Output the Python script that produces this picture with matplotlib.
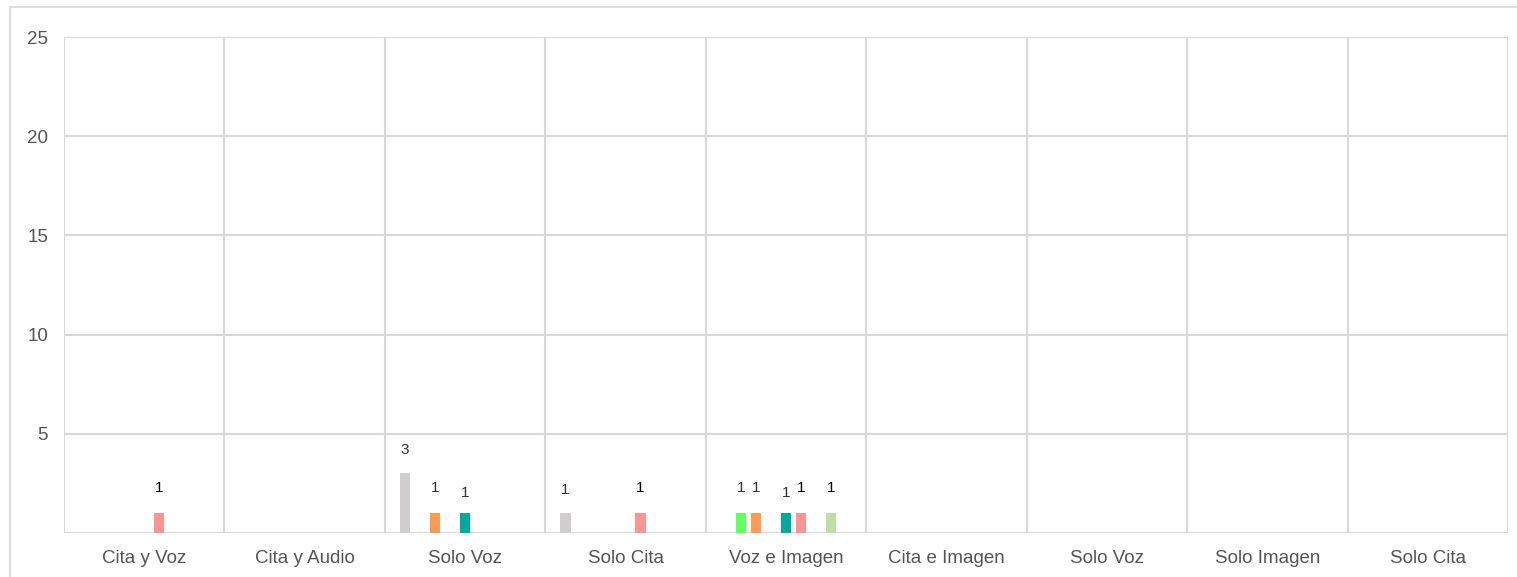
import matplotlib
matplotlib.use("Agg")
import matplotlib.pyplot as plt
import numpy as np

plt.rcParams['font.family'] = ['Liberation Sans', 'DejaVu Sans']

categories = ["Cita y Voz", "Cita y Audio", "Solo Voz", "Solo Cita", "Voz e Imagen",
              "Cita e Imagen", "Solo Voz", "Solo Imagen", "Solo Cita"]
y_ticks = [5, 10, 15, 20, 25]

# series values (slot order within each group)
s_gray       = [0, 0, 3, 1, 0, 0, 0, 0, 0]
s_green      = [0, 0, 0, 0, 1, 0, 0, 0, 0]
s_orange     = [0, 0, 1, 0, 1, 0, 0, 0, 0]
s_empty1     = [0, 0, 0, 0, 0, 0, 0, 0, 0]
s_teal       = [0, 0, 1, 0, 1, 0, 0, 0, 0]
s_pink       = [1, 0, 0, 1, 1, 0, 0, 0, 0]
s_empty2     = [0, 0, 0, 0, 0, 0, 0, 0, 0]
s_lightgreen = [0, 0, 0, 0, 1, 0, 0, 0, 0]
s_empty3     = [0, 0, 0, 0, 0, 0, 0, 0, 0]

series = [s_gray, s_green, s_orange, s_empty1, s_teal, s_pink, s_empty2, s_lightgreen, s_empty3]
colors = ["#D0CECF", "#66FF66", "#FF9A55", "#999999", "#00A8A0", "#FF9494", "#999999", "#C0DCA8", "#999999"]
label_colors = ["#333333", "#333333", "#333333", "#333333", "#333333", "#000000", "#333333", "#000000", "#333333"]
label_offsets = [17, 18, 18, 18, 14.4, 18, 18, 18, 18]

W, H = 1517, 577
fig = plt.figure(figsize=(W / 100, H / 100), dpi=100)
ax = fig.add_axes([64 / W, (H - 533) / H, (1508 - 64) / W, (533 - 37) / H])

n = len(categories)
ns = len(series)
slot = 15 / 160.5
bw = 10.5 / 160.5
x = np.arange(n)
for i, (vals, c) in enumerate(zip(series, colors)):
    off = (i - (ns - 1) / 2) * slot
    for xi, v in zip(x, vals):
        if v > 0:
            ax.bar(xi + off, v, width=bw, color=c, zorder=3)
            ax.annotate(str(v), (xi + off, v), xytext=(0, label_offsets[i]),
                        textcoords="offset points", ha="center", va="center",
                        fontsize=11, color=label_colors[i])

ax.set_xlim(-0.5, n - 0.5)
ax.set_ylim(0, 25)
ax.set_yticks(y_ticks)
ax.set_xticks(x)
ax.set_xticklabels(categories)
for s in ax.spines.values():
    s.set_visible(False)
ax.tick_params(length=0, labelsize=13.5, labelcolor="#555555")
ax.tick_params(axis="y", pad=11.5)
ax.tick_params(axis="x", pad=12)
for yv in [0] + y_ticks:
    ax.axhline(yv, color="#D9D9D9", lw=1.5, zorder=1)
for b in np.arange(-0.5, n, 1.0):
    ax.axvline(b, color="#D9D9D9", lw=1.5, zorder=1)

# outer panel border
fig.add_artist(plt.Line2D([10 / W, 10 / W], [0, 1 - 7 / H], color="#DDDDDD", lw=1.5, transform=fig.transFigure))
fig.add_artist(plt.Line2D([10 / W, 1], [1 - 7 / H, 1 - 7 / H], color="#DDDDDD", lw=1.5, transform=fig.transFigure))

fig.savefig("out.png", dpi=100)
